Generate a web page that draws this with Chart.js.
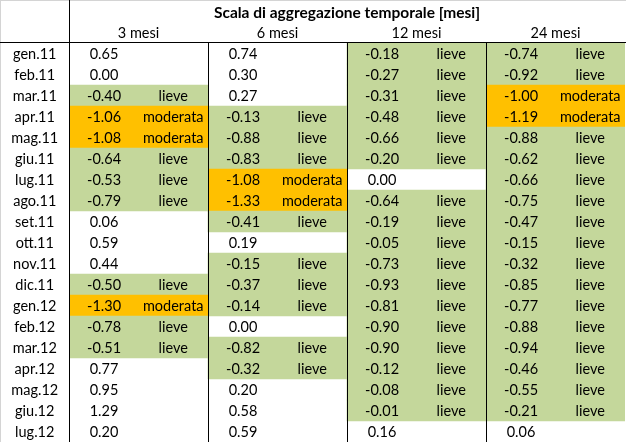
<!DOCTYPE html>
<html>
<head>
<meta charset="utf-8">
<script src="https://cdn.jsdelivr.net/npm/chart.js@4/dist/chart.umd.min.js"></script>
<style>
html,body{margin:0;padding:0;background:#fff;}
canvas{display:block;}
</style>
</head>
<body>
<canvas id="c" width="626" height="442"></canvas>
<script>
const title = 'Scala di aggregazione temporale [mesi]';
const scales = ['3 mesi', '6 mesi', '12 mesi', '24 mesi'];
const months = ['gen.11','feb.11','mar.11','apr.11','mag.11','giu.11','lug.11','ago.11','set.11','ott.11','nov.11','dic.11','gen.12','feb.12','mar.12','apr.12','mag.12','giu.12','lug.12'];
const spi3  = [0.65, 0.00, -0.40, -1.06, -1.08, -0.64, -0.53, -0.79, 0.06, 0.59, 0.44, -0.50, -1.30, -0.78, -0.51, 0.77, 0.95, 1.29, 0.20];
const spi6  = [0.74, 0.30, 0.27, -0.13, -0.88, -0.83, -1.08, -1.33, -0.41, 0.19, -0.15, -0.37, -0.14, 0.00, -0.82, -0.32, 0.20, 0.58, 0.59];
const spi12 = [-0.18, -0.27, -0.31, -0.48, -0.66, -0.20, 0.00, -0.64, -0.19, -0.05, -0.73, -0.93, -0.81, -0.90, -0.90, -0.12, -0.08, -0.01, 0.16];
const spi24 = [-0.74, -0.92, -1.00, -1.19, -0.88, -0.62, -0.66, -0.75, -0.47, -0.15, -0.32, -0.85, -0.77, -0.88, -0.94, -0.46, -0.55, -0.21, 0.06];
const series = [spi3, spi6, spi12, spi24];
const classLabels = { lieve: 'lieve', moderata: 'moderata' };

const GREEN = '#C4D79B', ORANGE = '#FFC000';
const FONT = 'Lato, "Open Sans", sans-serif';

function cls(v){
  if (v <= -1) return 'moderata';
  if (v < 0) return 'lieve';
  return '';
}

const datasets = series.map((vals, c) => ({
  label: scales[c],
  data: vals.map(v => cls(v) ? [c, c + 1] : null),
  backgroundColor: vals.map(v => cls(v) === 'moderata' ? ORANGE : GREEN),
  borderWidth: 0,
  barPercentage: 1,
  categoryPercentage: 1,
  grouped: false
}));

const tablePlugin = {
  id: 'tablePlugin',
  beforeDraw(chart){
    const ctx = chart.ctx;
    ctx.save();
    ctx.fillStyle = '#fff';
    ctx.fillRect(0, 0, chart.width, chart.height);
    ctx.restore();
  },
  afterDatasetsDraw(chart){
    const ctx = chart.ctx;
    const xs = chart.scales.x, ys = chart.scales.y;
    const ca = chart.chartArea;
    ctx.save();
    // outer light border
    ctx.strokeStyle = '#D4D4D4';
    ctx.lineWidth = 1;
    ctx.beginPath();
    ctx.moveTo(0, 0.5); ctx.lineTo(chart.width, 0.5);
    ctx.moveTo(0.5, 0); ctx.lineTo(0.5, chart.height);
    ctx.stroke();
    // grid lines
    ctx.strokeStyle = '#000';
    ctx.beginPath();
    const hy = Math.round(ca.top) - 0.5;
    ctx.moveTo(0, hy); ctx.lineTo(chart.width, hy);
    const lx = Math.round(xs.getPixelForValue(0)) + 0.5;
    ctx.moveTo(lx, 0); ctx.lineTo(lx, chart.height);
    for (let c = 1; c < scales.length; c++){
      const x = Math.round(xs.getPixelForValue(c)) + 0.5;
      ctx.moveTo(x, hy); ctx.lineTo(x, chart.height);
    }
    ctx.stroke();
    // header
    ctx.fillStyle = '#000';
    ctx.textBaseline = 'middle';
    ctx.textAlign = 'center';
    ctx.font = 'bold 15.5px ' + FONT;
    ctx.fillText(title, (ca.left + ca.right) / 2, 13);
    ctx.font = '14.5px ' + FONT;
    scales.forEach((s, c) => ctx.fillText(s, xs.getPixelForValue(c + 0.5), 33));
    // row labels
    months.forEach((m, i) => ctx.fillText(m, lx / 2, ys.getPixelForValue(i) + 1));
    // cells
    const colW = xs.getPixelForValue(1) - xs.getPixelForValue(0);
    series.forEach((vals, c) => {
      const x0 = xs.getPixelForValue(c);
      vals.forEach((v, i) => {
        const y = ys.getPixelForValue(i) + 1;
        ctx.fillText(v.toFixed(2), x0 + colW * 0.252, y);
        const k = cls(v);
        if (k) ctx.fillText(classLabels[k], x0 + colW * 0.75, y);
      });
    });
    ctx.restore();
  }
};

new Chart(document.getElementById('c'), {
  type: 'bar',
  data: { labels: months, datasets },
  options: {
    indexAxis: 'y',
    responsive: false,
    animation: false,
    layout: { padding: { left: 69, top: 43, right: 1, bottom: 0 } },
    plugins: { legend: { display: false }, tooltip: { enabled: false }, title: { display: false } },
    scales: {
      x: { type: 'linear', min: 0, max: 4, display: false },
      y: { type: 'category', display: false, offset: true }
    }
  },
  plugins: [tablePlugin]
});
</script>
</body>
</html>
